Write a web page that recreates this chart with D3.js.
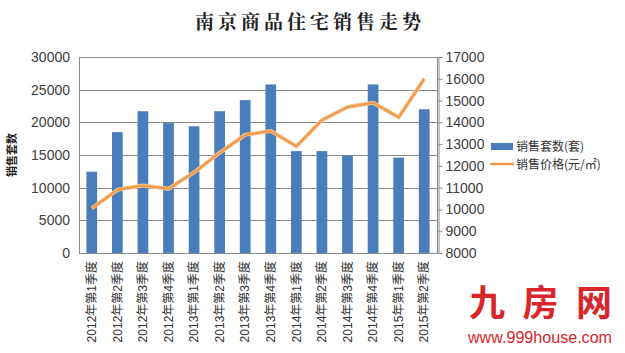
<!DOCTYPE html>
<html>
<head>
<meta charset="utf-8">
<script src="https://cdn.jsdelivr.net/npm/d3@7"></script>
<style>
    body { margin: 0; background: #fff; }
    text { font-family: "Liberation Sans", Arial, "Noto Sans CJK SC", sans-serif; fill: #333; }
</style>
</head>
<body>
<div id="chart"></div>
<script>
// Data
const quarters = [
    "2012年第1季度", "2012年第2季度", "2012年第3季度", "2012年第4季度",
    "2013年第1季度", "2013年第2季度", "2013年第3季度", "2013年第4季度",
    "2014年第1季度", "2014年第2季度", "2014年第3季度", "2014年第4季度",
    "2015年第1季度", "2015年第2季度"
];
const salesUnits = [12450, 18500, 21700, 19900, 19400, 21700, 23400, 25800, 15600, 15600, 14900, 25800, 14600, 22000];
const salesPrice = [10050, 10900, 11100, 10950, 11700, 12600, 13430, 13600, 12900, 14100, 14700, 14900, 14230, 16000];
const leftTicks = [0, 5000, 10000, 15000, 20000, 25000, 30000];
const rightTicks = [8000, 9000, 10000, 11000, 12000, 13000, 14000, 15000, 16000, 17000];

const width = 625,
    height = 353,
    margin = { top: 57, right: 188, bottom: 100, left: 79 };

const svg = d3.select("#chart")
    .append("svg")
    .attr("width", width)
    .attr("height", height);

// Title
svg.append("text")
    .attr("x", 310)
    .attr("y", 29)
    .attr("text-anchor", "middle")
    .style("font-family", "'Noto Serif CJK SC', 'Noto Sans CJK SC', serif")
    .style("font-weight", "bold")
    .style("font-size", "19px")
    .style("letter-spacing", "4px")
    .style("fill", "#222")
    .text("南京商品住宅销售走势");

const x = d3.scaleBand()
    .domain(quarters)
    .range([margin.left, width - margin.right])
    .paddingInner(0.58)
    .paddingOuter(0.29);

const y = d3.scaleLinear()
    .domain([0, 30000])
    .range([height - margin.bottom, margin.top]);

const y2 = d3.scaleLinear()
    .domain([8000, 17000])
    .range([height - margin.bottom, margin.top]);

// Gridlines
svg.append("g")
    .selectAll("line")
    .data(leftTicks)
    .join("line")
    .attr("x1", margin.left)
    .attr("x2", width - margin.right)
    .attr("y1", (d) => Math.round(y(d)) + 0.5)
    .attr("y2", (d) => Math.round(y(d)) + 0.5)
    .attr("stroke", "#8a8a8a")
    .attr("stroke-width", 1);

// Plot frame
svg.append("rect")
    .attr("x", margin.left + 0.5)
    .attr("y", margin.top + 0.5)
    .attr("width", width - margin.right - margin.left)
    .attr("height", height - margin.bottom - margin.top)
    .attr("fill", "none")
    .attr("stroke", "#8a8a8a");

// Bars
svg.append("g")
    .selectAll("rect")
    .data(salesUnits)
    .join("rect")
    .attr("x", (d, i) => x(quarters[i]))
    .attr("y", (d) => y(d))
    .attr("width", x.bandwidth())
    .attr("height", (d) => y(0) - y(d))
    .attr("fill", "#4a7ebb");

// Left axis
const leftAxis = svg.append("g")
    .attr("transform", `translate(${margin.left},0)`)
    .call(d3.axisLeft(y).tickValues(leftTicks).tickFormat(d3.format("d")).tickSize(0).tickPadding(9));
leftAxis.select(".domain").remove();
leftAxis.selectAll("text")
    .style("font-size", "14px")
    .style("fill", "#404040");

// Right axis
const rightAxis = svg.append("g")
    .attr("transform", `translate(${width - margin.right + 1.5},0)`)
    .call(d3.axisRight(y2).tickValues(rightTicks).tickFormat(d3.format("d")).tickSize(4).tickPadding(3));
rightAxis.select(".domain").attr("stroke", "#8a8a8a");
rightAxis.selectAll(".tick line").attr("stroke", "#8a8a8a");
rightAxis.selectAll("text")
    .style("font-size", "14px")
    .style("fill", "#404040");

// Bottom category labels
const bottomAxis = svg.append("g")
    .attr("transform", `translate(0,${height - margin.bottom})`)
    .call(d3.axisBottom(x).tickSize(0).tickPadding(8));
bottomAxis.select(".domain").remove();
bottomAxis.selectAll("text")
    .style("font-size", "12px")
    .style("fill", "#333")
    .attr("text-anchor", "end")
    .attr("transform", "rotate(-90)")
    .attr("x", -8)
    .attr("y", 0)
    .attr("dy", "0.35em");

// Price line
const line = d3.line()
    .x((d, i) => x(quarters[i]) + x.bandwidth() / 2)
    .y((d) => y2(d));

svg.append("path")
    .datum(salesPrice)
    .attr("fill", "none")
    .attr("stroke", "#f6c08a")
    .attr("stroke-width", 4)
    .attr("stroke-linejoin", "round")
    .attr("d", line);

svg.append("path")
    .datum(salesPrice)
    .attr("fill", "none")
    .attr("stroke", "#ee9a4a")
    .attr("stroke-width", 2)
    .attr("stroke-linejoin", "round")
    .attr("d", line);

// Left axis title
svg.append("text")
    .attr("transform", "translate(16,155) rotate(-90)")
    .attr("text-anchor", "middle")
    .style("font-family", "'Noto Sans CJK SC', sans-serif")
    .style("font-weight", "bold")
    .style("font-size", "11px")
    .style("fill", "#222")
    .text("销售套数");

// Legend
const legend = svg.append("g");
legend.append("rect")
    .attr("x", 491)
    .attr("y", 143)
    .attr("width", 22)
    .attr("height", 7)
    .attr("fill", "#4a7ebb");
legend.append("text")
    .attr("x", 516)
    .attr("y", 147)
    .attr("dy", "0.35em")
    .style("font-family", "'Noto Sans CJK SC', sans-serif")
    .style("font-size", "12px")
    .text("销售套数(套)");
legend.append("line")
    .attr("x1", 490)
    .attr("x2", 514)
    .attr("y1", 164)
    .attr("y2", 164)
    .attr("stroke", "#ee9a4a")
    .attr("stroke-width", 2.5);
legend.append("text")
    .attr("x", 516)
    .attr("y", 165)
    .attr("dy", "0.35em")
    .style("font-family", "'Noto Sans CJK SC', sans-serif")
    .style("font-size", "12px")
    .text("销售价格(元/㎡)");

// Watermark
const mark = svg.append("g");
mark.append("text")
    .attr("x", 469)
    .attr("y", 316)
    .attr("textLength", 143)
    .attr("lengthAdjust", "spacing")
    .style("font-family", "'Noto Sans CJK SC', sans-serif")
    .style("font-weight", "bold")
    .style("font-size", "36px")
    .style("fill", "#d8262b")
    .text("九房网");
mark.append("text")
    .attr("x", 468)
    .attr("y", 343)
    .attr("textLength", 144)
    .attr("lengthAdjust", "spacingAndGlyphs")
    .style("font-size", "16px")
    .style("fill", "#d8262b")
    .text("www.999house.com");
</script>
</body>
</html>
